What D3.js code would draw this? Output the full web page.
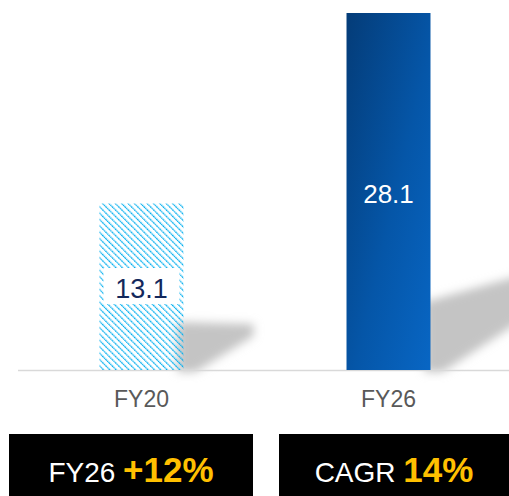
<!DOCTYPE html>
<html>
<head>
<meta charset="utf-8">
<script src="https://cdn.jsdelivr.net/npm/d3@7"></script>
<style>
  body { margin: 0; background: #fff; }
  svg { display: block; font-family: Arial, "Liberation Sans", sans-serif; }
</style>
</head>
<body>
<svg id="chart"></svg>
<script>
// chart data
const categories = ["FY20", "FY26"];
const values = [13.1, 28.1];
const valueLabels = ["13.1", "28.1"];
const footLabels = ["FY26 ", "CAGR "];
const footValues = ["+12%", "14%"];

const width = 509, height = 496;
const margin = { top: 13, left: 18, baseline: 370 };

const svg = d3.select("#chart").attr("width", width).attr("height", height);
const defs = svg.append("defs");

// hatch pattern for the first bar
const pat = defs.append("pattern")
    .attr("id", "hatch")
    .attr("patternUnits", "userSpaceOnUse")
    .attr("width", 4.5).attr("height", 4.5)
    .attr("patternTransform", "rotate(-45)");
pat.append("line")
    .attr("x1", 0).attr("y1", 0).attr("x2", 0).attr("y2", 4.5)
    .attr("stroke", "#00aeef").attr("stroke-width", 2.5)
    .attr("stroke-dasharray", "1.7 0.55");

const grad = defs.append("linearGradient")
    .attr("id", "blue").attr("x1", "0").attr("y1", "0").attr("x2", "1").attr("y2", "1");
grad.append("stop").attr("offset", "0%").attr("stop-color", "#043c78");
grad.append("stop").attr("offset", "55%").attr("stop-color", "#0556a8");
grad.append("stop").attr("offset", "100%").attr("stop-color", "#0866c4");

defs.append("filter").attr("id", "blur")
    .attr("x", "-30%").attr("y", "-30%").attr("width", "160%").attr("height", "160%")
    .append("feGaussianBlur").attr("stdDeviation", 5);

const x = d3.scaleBand()
    .domain(categories)
    .range([18, 512])
    .paddingInner(0.66)
    .paddingOuter(0.33);

const y = d3.scaleLinear()
    .domain([0, 28.1])
    .range([margin.baseline, margin.top]);

// soft cast shadows (style only: left height, reach, far top/bottom rise)
const shadowStyle = [
    { left: 48, reach: 70, farTop: 46, farBottom: 34 },
    { left: 68, reach: 110, farTop: 100, farBottom: 62 }
];
svg.append("g").selectAll("path")
    .data(values)
    .join("path")
    .attr("d", (d, i) => {
        const s = shadowStyle[i];
        const x0 = x(categories[i]) + x.bandwidth();
        const b = margin.baseline;
        return `M${x0 - 6},${b + 2} L${x0 - 6},${b - s.left} L${x0 + s.reach},${b - s.farTop} L${x0 + s.reach},${b - s.farBottom} L${x0 + 12},${b + 2} Z`;
    })
    .attr("fill", "#c4c4c4")
    .attr("filter", "url(#blur)");

// axis line
svg.append("line")
    .attr("x1", 18).attr("x2", 509)
    .attr("y1", margin.baseline + 0.5).attr("y2", margin.baseline + 0.5)
    .attr("stroke", "#d9d9d9").attr("stroke-width", 1.5);

// bars
svg.append("g").selectAll("rect")
    .data(values)
    .join("rect")
    .attr("x", (d, i) => x(categories[i]))
    .attr("y", d => y(d))
    .attr("width", x.bandwidth())
    .attr("height", d => margin.baseline - y(d))
    .attr("fill", (d, i) => i === 0 ? "url(#hatch)" : "url(#blue)");

// value label on first bar sits in a white box
const cx0 = x(categories[0]) + x.bandwidth() / 2;
svg.append("rect")
    .attr("x", cx0 - 38).attr("y", 268)
    .attr("width", 76).attr("height", 36)
    .attr("fill", "#fff");

svg.append("g").selectAll("text")
    .data(values)
    .join("text")
    .attr("x", (d, i) => x(categories[i]) + x.bandwidth() / 2)
    .attr("y", (d, i) => i === 0 ? 298 : 203)
    .attr("text-anchor", "middle")
    .attr("font-size", (d, i) => i === 0 ? 27 : 26)
    .attr("fill", (d, i) => i === 0 ? "#13285c" : "#fff")
    .text((d, i) => valueLabels[i]);

// category labels
svg.append("g").selectAll("text")
    .data(categories)
    .join("text")
    .attr("x", d => x(d) + x.bandwidth() / 2)
    .attr("y", 407)
    .attr("text-anchor", "middle")
    .attr("font-size", 23)
    .attr("fill", "#595959")
    .text(d => d);

// footer boxes
const boxes = [{ x: 9, w: 244 }, { x: 279, w: 230 }];
const foot = svg.append("g").selectAll("g")
    .data(boxes)
    .join("g");
foot.append("rect")
    .attr("x", d => d.x).attr("y", 434)
    .attr("width", d => d.w).attr("height", 62)
    .attr("fill", "#000");
const ft = foot.append("text")
    .attr("x", d => d.x + d.w / 2)
    .attr("y", 482)
    .attr("text-anchor", "middle");
ft.append("tspan")
    .attr("font-size", 28).attr("fill", "#fff")
    .text((d, i) => footLabels[i]);
ft.append("tspan")
    .attr("font-size", 35).attr("font-weight", "bold").attr("fill", "#ffc000")
    .text((d, i) => footValues[i]);
</script>
</body>
</html>
